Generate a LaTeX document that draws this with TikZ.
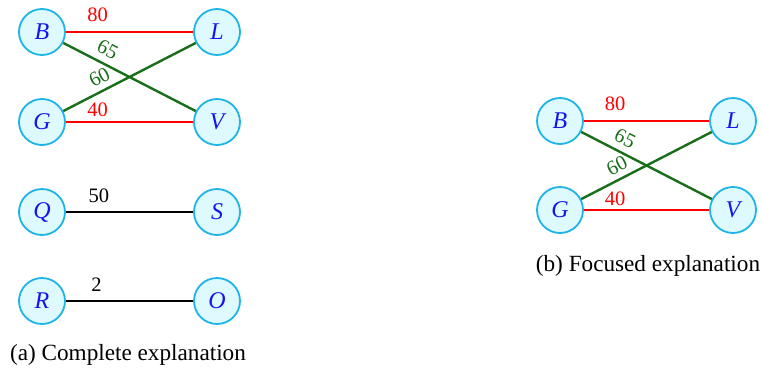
\documentclass[tikz,border=0pt]{standalone}
\usepackage{fontspec}
\setmainfont{Liberation Serif}
\definecolor{nodeline}{RGB}{30,180,230}
\definecolor{nodefill}{RGB}{222,250,255}
\definecolor{nodetext}{RGB}{20,20,235}
\definecolor{edgegreen}{RGB}{25,110,25}
\definecolor{edgered}{RGB}{255,0,0}
\begin{document}
\begin{tikzpicture}[x=1pt,y=-1pt,
  vert/.style={circle,draw=nodeline,fill=nodefill,line width=1.8pt,minimum size=46pt,inner sep=0pt,
    font=\fontsize{24}{28}\selectfont\itshape,text=nodetext},
  wred/.style={draw=edgered,line width=2.4pt},
  wgreen/.style={draw=edgegreen,line width=2.4pt},
  wblack/.style={draw=black,line width=2.4pt},
  wlab/.style={inner sep=0pt,font=\fontsize{20.5}{24}\selectfont},
  capt/.style={font=\fontsize{23.2}{28}\selectfont}]
\useasboundingbox (0,0) rectangle (762,375);
% panel (a)
\node[vert] (aB) at (42,32) {B};
\node[vert] (aL) at (217,32) {L};
\node[vert] (aG) at (42,122) {G};
\node[vert] (aV) at (217,122) {V};
\node[vert] (aQ) at (42,212) {Q};
\node[vert] (aS) at (217,212) {S};
\node[vert] (aR) at (42,301) {R};
\node[vert] (aO) at (217,301) {O};
\draw[wred] (aB) -- node[wlab,text=edgered,pos=0.25,above=9.5pt]{80} (aL);
\draw[wgreen] (aB) -- node[wlab,text=edgegreen,pos=0.285,sloped,above=6.5pt]{65} (aV);
\draw[wgreen] (aG) -- node[wlab,text=edgegreen,pos=0.32,sloped,above=5.5pt]{60} (aL);
\draw[wred] (aG) -- node[wlab,text=edgered,pos=0.25,above=4.5pt]{40} (aV);
\draw[wblack] (aQ) -- node[wlab,pos=0.26,above=8pt]{50} (aS);
\draw[wblack] (aR) -- node[wlab,pos=0.24,above=8pt]{2} (aO);
\node[capt] (capa) at (128,355) {(a) Complete explanation};
% panel (b)
\node[vert] (bB) at (560,121) {B};
\node[vert] (bL) at (733,121) {L};
\node[vert] (bG) at (560,210) {G};
\node[vert] (bV) at (733,210) {V};
\draw[wred] (bB) -- node[wlab,text=edgered,pos=0.25,above=9.5pt]{80} (bL);
\draw[wgreen] (bB) -- node[wlab,text=edgegreen,pos=0.285,sloped,above=6.5pt]{65} (bV);
\draw[wgreen] (bG) -- node[wlab,text=edgegreen,pos=0.32,sloped,above=5.5pt]{60} (bL);
\draw[wred] (bG) -- node[wlab,text=edgered,pos=0.25,above=3.5pt]{40} (bV);
\node[capt] (capb) at (648,266) {(b) Focused explanation};
\end{tikzpicture}
\end{document}
